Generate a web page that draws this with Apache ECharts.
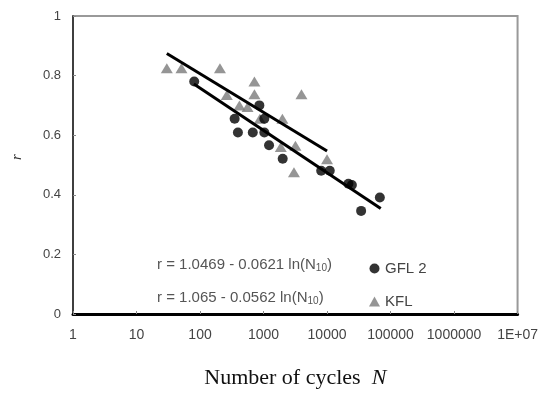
<!DOCTYPE html>
<html><head><meta charset="utf-8">
<script src="https://cdn.jsdelivr.net/npm/echarts@6/dist/echarts.min.js"></script>
<style>html,body{margin:0;padding:0;background:#fff}#c{width:541px;height:394px}</style>
</head><body><div id="c"></div>
<script>
// KFL (grey triangles)
const kflN = [30, 51, 206, 719, 719, 264, 417, 560, 3956, 875, 1870, 1982, 3180, 3015, 10000];
const kflR = [0.825, 0.825, 0.825, 0.78, 0.737, 0.735, 0.70, 0.695, 0.737, 0.655, 0.56, 0.655, 0.565, 0.476, 0.519];
// GFL 2 (black markers)
const gflN = [81, 860, 351, 1029, 395, 677, 1030, 1222, 2004, 8090, 11040, 21700, 24600, 34400, 67800];
const gflR = [0.78, 0.70, 0.655, 0.655, 0.609, 0.609, 0.609, 0.566, 0.521, 0.481, 0.481, 0.437, 0.433, 0.346, 0.391];
// regression lines (end points)
const fitKflN = [30, 10000];
const fitKflR = [0.874, 0.547];
const fitGflN = [80, 70000];
const fitGflR = [0.772, 0.354];
const xTickLabels = ['1','10','100','1000','10000','100000','1000000','1E+07'];
const yTickLabels = ['0','0.2','0.4','0.6','0.8','1'];
const eqGfl = 'r = 1.0469 - 0.0621 ln(N{s|10})';
const eqKfl = 'r = 1.065 - 0.0562 ln(N{s|10})';

const zip = (a, b) => a.map((v, i) => [v, b[i]]);
const chart = echarts.init(document.getElementById('c'));
chart.setOption({
  animation: false,
  grid: { left: 73, right: 18, top: 16, bottom: 65, show: true, borderColor: '#999', borderWidth: 2 },
  xAxis: {
    type: 'log', logBase: 10, min: 1, max: 1e7,
    name: '{a|Number of cycles  }{b|N}', nameLocation: 'middle', nameGap: 53,
    nameTextStyle: { rich: {
      a: { fontFamily: 'Liberation Serif', fontSize: 22, color: '#111' },
      b: { fontFamily: 'Liberation Serif', fontSize: 22, fontStyle: 'italic', color: '#111' } } },
    axisLine: { lineStyle: { color: '#000', width: 3 } },
    axisTick: { inside: true, length: 3, lineStyle: { color: '#888' } },
    splitLine: { show: false },
    axisLabel: { margin: 14, fontFamily: 'Liberation Sans', fontSize: 14, color: '#444',
      formatter: v => xTickLabels[Math.round(Math.log10(v))] }
  },
  yAxis: {
    type: 'value', min: 0, max: 1, interval: 0.2,
    axisLine: { show: true, lineStyle: { color: '#222', width: 1.5 } },
    axisTick: { show: true, inside: true, length: 3, lineStyle: { color: '#888' } },
    splitLine: { show: false },
    axisLabel: { margin: 12, fontFamily: 'Liberation Sans', fontSize: 13, color: '#444',
      formatter: v => yTickLabels[Math.round(v / 0.2)] }
  },
  legend: {
    orient: 'vertical', left: 364, top: 256, itemGap: 18, itemWidth: 11, itemHeight: 10,
    textStyle: { fontFamily: 'Liberation Sans', fontSize: 15, color: '#444' },
    data: [{ name: 'GFL 2', icon: 'circle' }, { name: 'KFL', icon: 'triangle' }]
  },
  graphic: [
    { type: 'text', x: 17, y: 157, rotation: Math.PI / 2,
      style: { text: 'r', font: 'italic 15px "Liberation Serif"', fill: '#333', align: 'center', verticalAlign: 'middle' } },
    { type: 'text', left: 157, top: 257, style: { text: eqGfl, font: '15px "Liberation Sans"', fill: '#555',
      rich: { s: { fontSize: 10, fill: '#555', verticalAlign: 'bottom', padding: [7, 0, 0, 0] } } } },
    { type: 'text', left: 157, top: 290, style: { text: eqKfl, font: '15px "Liberation Sans"', fill: '#555',
      rich: { s: { fontSize: 10, fill: '#555', verticalAlign: 'bottom', padding: [7, 0, 0, 0] } } } }
  ],
  series: [
    { name: 'KFL', type: 'scatter', data: zip(kflN, kflR), symbol: 'triangle', symbolSize: [12, 10],
      itemStyle: { color: '#7a7a7a' }, z: 2 },
    { name: 'GFL 2', type: 'scatter', data: zip(gflN, gflR), symbol: 'circle', symbolSize: 10,
      itemStyle: { color: '#000' }, z: 3 },
    { name: 'fitKFL', type: 'line', data: zip(fitKflN, fitKflR), symbol: 'none',
      lineStyle: { color: '#000', width: 3 }, z: 4 },
    { name: 'fitGFL', type: 'line', data: zip(fitGflN, fitGflR), symbol: 'none',
      lineStyle: { color: '#000', width: 3 }, z: 4 }
  ]
});
</script></body></html>
